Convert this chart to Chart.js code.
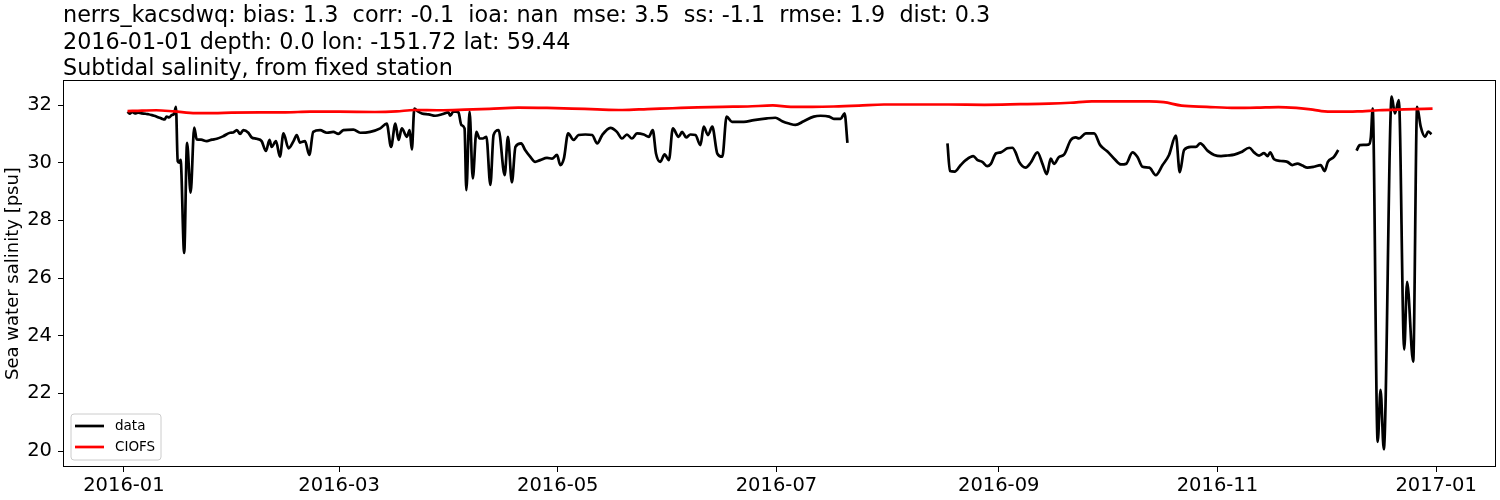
<!DOCTYPE html>
<html>
<head>
<meta charset="utf-8">
<title>Subtidal salinity</title>
<script src="https://cdn.jsdelivr.net/npm/chart.js@4.4.0/dist/chart.umd.min.js"></script>
<style>
    html, body { margin: 0; padding: 0; background: #fff; }
</style>
</head>
<body>
<canvas id="salinityChart" width="1500" height="500"></canvas>
<script>
// Title lines
const titleLines = [
    'nerrs_kacsdwq: bias: 1.3  corr: -0.1  ioa: nan  mse: 3.5  ss: -1.1  rmse: 1.9  dist: 0.3',
    '2016-01-01 depth: 0.0 lon: -151.72 lat: 59.44',
    'Subtidal salinity, from fixed station'
];

// Axis ticks
const tickLabels = ['2016-01', '2016-03', '2016-05', '2016-07', '2016-09', '2016-11', '2017-01'];
const yTicks = [20, 22, 24, 26, 28, 30, 32];

// Observed salinity (days since 2016-01-01), null = gap in record
const dataDays = [
    1.0, 1.6, 2.3, 3.1, 4.0, 4.9, 6.0, 6.8, 7.8, 8.7, 9.5, 10.0, 10.7, 11.3, 11.9, 12.6, 13.3, 14.0, 14.5, 15.0,
    15.5, 15.8, 16.8, 17.6, 18.6, 19.6, 20.3, 21.5, 23.1, 24.5, 25.9, 27.7, 29.6, 30.5, 31.5, 32.4, 33.3, 34.7, 35.6, 37.0,
    38.4, 39.6, 40.6, 41.2, 42.4, 43.5, 44.5, 45.9, 47.3, 48.2, 49.1, 50.5, 51.7, 52.8, 54.7, 56.6, 58.4, 59.8, 61.2, 64.0,
    65.9, 68.7, 71.5, 73.3, 74.5, 75.7, 76.6, 77.5, 78.9, 79.7, 80.3, 81.0, 82.0, 83.1, 85.0, 86.8, 88.7, 90.5, 91.0, 91.9,
    93.3, 94.1, 95.0, 95.5, 96.4, 97.3, 98.3, 99.2, 100.1, 101.1, 102.2, 103.1, 104.5, 106.2, 107.1, 108.2, 109.2, 110.8, 111.9, 113.3,
    114.7, 116.1, 118.0, 119.4, 120.8, 121.7, 122.7, 123.9, 125.4, 126.8, 128.7, 130.6, 132.0, 133.4, 135.7, 137.5, 138.9, 140.3, 141.7, 143.1,
    145.0, 146.4, 147.5, 148.4, 149.6, 150.8, 152.0, 153.1, 154.7, 155.7, 156.8, 158.0, 159.4, 160.8, 161.7, 162.9, 164.1, 165.5, 166.9, 168.1,
    169.6, 172.9, 175.7, 179.4, 181.7, 183.6, 185.5, 187.3, 189.6, 192.4, 194.3, 196.7, 198.0, 199.9, 201.0, 201.8, 215.0,
    229.7, 230.4, 231.7, 233.4, 234.8, 236.9, 238.1, 239.4, 240.8, 241.8, 243.2, 244.6, 246.4, 247.8, 248.7, 249.7, 251.5, 252.9, 254.8, 256.2,
    257.4, 258.5, 259.4, 260.8, 262.2, 264.1, 265.5, 266.4, 268.3, 270.6, 272.3, 274.4, 276.2, 278.1, 279.5, 281.3, 282.7, 284.1, 286.0, 287.8,
    289.7, 291.5, 293.4, 294.5, 295.7, 297.6, 299.0, 300.2, 302.3, 304.1, 306.0, 307.8, 309.7, 311.5, 313.9, 315.2, 316.6, 318.0, 319.0, 319.7,
    320.8, 322.7, 324.5, 325.9, 327.3, 328.7, 330.1, 331.9, 333.8, 334.9, 335.8, 337.5, 338.7, 341.0,
    343.8, 344.7, 347.1, 347.8, 348.3, 349.7, 350.5, 351.4, 353.6, 354.5, 355.6, 357.1, 357.9, 359.6, 360.7, 361.7, 362.9, 363.8, 364.7
];
const dataSalinity = [
    31.77, 31.70, 31.76, 31.71, 31.74, 31.71, 31.70, 31.68, 31.65, 31.62, 31.58, 31.56, 31.52, 31.50, 31.60, 31.57, 31.65, 31.70, 31.94, 30.05,
    30.00, 30.10, 26.87, 30.69, 28.96, 31.22, 30.81, 30.80, 30.75, 30.80, 30.83, 30.92, 31.04, 31.05, 31.13, 31.00, 31.13, 31.04, 30.88, 30.83,
    30.75, 30.41, 30.79, 30.55, 30.75, 30.21, 31.02, 30.50, 30.75, 30.96, 30.70, 30.75, 30.27, 31.07, 31.13, 31.04, 31.07, 31.00, 31.13, 31.15,
    31.04, 31.07, 31.19, 31.36, 30.55, 31.36, 30.79, 31.19, 30.90, 31.13, 30.46, 31.88, 31.78, 31.71, 31.68, 31.63, 31.68, 31.75, 31.63, 31.78,
    31.75, 31.31, 31.19, 29.05, 31.77, 29.46, 31.07, 30.84, 30.84, 30.90, 29.23, 30.96, 31.13, 29.57, 30.90, 29.32, 30.55, 30.67, 30.44, 30.21,
    30.03, 30.09, 30.17, 30.14, 30.27, 29.92, 30.14, 31.02, 30.79, 30.96, 30.98, 30.96, 30.67, 30.96, 31.21, 31.07, 30.84, 30.98, 30.84, 31.02,
    30.98, 30.90, 31.13, 30.32, 30.03, 30.29, 30.09, 31.19, 30.90, 31.07, 30.88, 30.98, 30.96, 30.61, 31.25, 30.96, 31.25, 30.32, 30.21, 31.60,
    31.42, 31.42, 31.48, 31.54, 31.56, 31.44, 31.36, 31.31, 31.44, 31.60, 31.63, 31.60, 31.52, 31.52, 31.71, 30.69, null,
    30.67, 29.71, 29.69, 29.92, 30.09, 30.23, 30.09, 30.03, 29.88, 29.96, 30.32, 30.36, 30.50, 30.52, 30.36, 30.03, 29.83, 30.00, 30.36, 29.96,
    29.60, 30.14, 29.96, 30.20, 30.28, 30.79, 30.88, 30.84, 31.02, 31.02, 30.61, 30.38, 30.14, 29.94, 29.96, 30.36, 30.20, 29.86, 29.83, 29.57,
    29.92, 30.27, 30.94, 29.67, 30.44, 30.55, 30.55, 30.67, 30.41, 30.27, 30.23, 30.25, 30.28, 30.36, 30.52, 30.36, 30.25, 30.33, 30.23, 30.36,
    30.12, 30.06, 30.03, 29.92, 29.97, 29.90, 29.83, 29.86, 29.92, 29.71, 30.03, 30.20, 30.44, null,
    30.42, 30.61, 30.63, 30.90, 31.88, 20.32, 22.12, 20.06, 32.29, 31.71, 32.17, 23.52, 25.87, 23.10, 31.94, 31.25, 30.90, 31.08, 30.99
];

// CIOFS model salinity (days since 2016-01-01)
const modelDays = [
    1, 5, 9, 14, 20, 25, 30, 38, 45, 52, 60, 70, 76, 81, 88, 95, 102, 110, 118, 125,
    132, 139, 146, 153, 160, 167, 174, 181, 186, 192, 198, 205, 212, 220, 230, 240, 250, 258, 264, 270,
    278, 286, 290, 295, 302, 310, 316, 322, 327, 331, 334, 338, 344, 350, 357, 365
];
const modelSalinity = [
    31.79, 31.81, 31.82, 31.78, 31.72, 31.72, 31.74, 31.75, 31.75, 31.77, 31.77, 31.76, 31.78, 31.83, 31.82, 31.84, 31.87, 31.91, 31.90, 31.88,
    31.85, 31.83, 31.86, 31.89, 31.92, 31.94, 31.95, 31.99, 31.94, 31.94, 31.95, 31.98, 32.02, 32.02, 32.02, 32.01, 32.03, 32.05, 32.08, 32.13,
    32.13, 32.13, 32.10, 31.98, 31.94, 31.90, 31.91, 31.93, 31.90, 31.85, 31.79, 31.77, 31.78, 31.82, 31.85, 31.88
];

const FONT = 'DejaVu Sans';
const MS_DAY = 86400000;

function dayOf(label) {
    const parts = label.split('-');
    return (Date.UTC(+parts[0], +parts[1] - 1, 1) - Date.UTC(2016, 0, 1)) / MS_DAY;
}

function toPoints(days, values) {
    return days.map((d, i) => ({ x: d, y: values[i] }));
}

// Title above plot, left aligned with the axes frame
const titlePlugin = {
    id: 'leftTitle',
    afterDraw(chart) {
        const c = chart.ctx;
        c.save();
        c.fillStyle = '#000';
        c.font = '22.3px "' + FONT + '"';
        c.textAlign = 'left';
        c.textBaseline = 'alphabetic';
        const baselines = [22, 48.5, 75];
        titleLines.forEach((line, i) => c.fillText(line, chart.chartArea.left, baselines[i]));
        c.restore();
    }
};

// Full box around the axes
const framePlugin = {
    id: 'frame',
    afterDatasetsDraw(chart) {
        const a = chart.chartArea;
        const c = chart.ctx;
        c.save();
        c.strokeStyle = '#000';
        c.lineWidth = 1;
        c.strokeRect(Math.round(a.left) + 0.5, Math.round(a.top) + 0.5,
            Math.round(a.right - a.left) - 1, Math.round(a.bottom - a.top) - 1);
        c.restore();
    }
};

// Legend box in lower left corner of the axes
const legendPlugin = {
    id: 'cornerLegend',
    afterDraw(chart) {
        const a = chart.chartArea;
        const c = chart.ctx;
        const x = a.left + 8, y = a.bottom - 53, w = 90, h = 46, r = 3;
        c.save();
        c.beginPath();
        c.moveTo(x + r, y);
        c.arcTo(x + w, y, x + w, y + h, r);
        c.arcTo(x + w, y + h, x, y + h, r);
        c.arcTo(x, y + h, x, y, r);
        c.arcTo(x, y, x + w, y, r);
        c.closePath();
        c.fillStyle = 'rgba(255,255,255,0.8)';
        c.fill();
        c.strokeStyle = '#cccccc';
        c.lineWidth = 1;
        c.stroke();
        c.font = '13.5px "' + FONT + '"';
        c.textBaseline = 'middle';
        c.textAlign = 'left';
        chart.data.datasets.forEach((ds, i) => {
            const ly = y + 12 + i * 21;
            c.beginPath();
            c.moveTo(x + 4, ly);
            c.lineTo(x + 33, ly);
            c.strokeStyle = ds.borderColor;
            c.lineWidth = 2.7;
            c.stroke();
            c.fillStyle = '#000';
            c.fillText(ds.label, x + 44, ly);
        });
        c.restore();
    }
};

Chart.defaults.font.family = FONT;
Chart.defaults.color = '#000';

const ctx = document.getElementById('salinityChart').getContext('2d');
new Chart(ctx, {
    type: 'line',
    data: {
        datasets: [{
            label: 'data',
            data: toPoints(dataDays, dataSalinity),
            borderColor: '#000000',
            borderWidth: 2.7,
            pointRadius: 0,
            cubicInterpolationMode: 'monotone',
            spanGaps: false,
            order: 1
        }, {
            label: 'CIOFS',
            data: toPoints(modelDays, modelSalinity),
            borderColor: '#ff0000',
            borderWidth: 2.7,
            pointRadius: 0,
            cubicInterpolationMode: 'monotone',
            order: 0
        }]
    },
    options: {
        responsive: false,
        animation: false,
        layout: { padding: { top: 80, right: 4, bottom: 0, left: 0 } },
        plugins: {
            legend: { display: false },
            title: { display: false },
            tooltip: { enabled: false }
        },
        scales: {
            x: {
                type: 'linear',
                min: -17,
                max: 382.7,
                afterBuildTicks: scale => {
                    scale.ticks = tickLabels.map(l => ({ value: dayOf(l) }));
                },
                afterFit: scale => { scale.height = 33; },
                ticks: {
                    callback: (value, index) => tickLabels[index],
                    font: { size: 19.5 },
                    color: '#000',
                    padding: 2,
                    maxRotation: 0,
                    autoSkip: false
                },
                grid: { drawOnChartArea: false, drawTicks: true, tickLength: 5, color: '#000' },
                border: { display: false }
            },
            y: {
                min: 19.445,
                max: 32.87,
                afterBuildTicks: scale => {
                    scale.ticks = yTicks.map(v => ({ value: v }));
                },
                afterFit: scale => { scale.width = 63; },
                ticks: {
                    font: { size: 19.5 },
                    color: '#000',
                    padding: 6
                },
                grid: { drawOnChartArea: false, drawTicks: true, tickLength: 5, color: '#000' },
                border: { display: false },
                title: {
                    display: true,
                    text: 'Sea water salinity [psu]',
                    font: { size: 18 },
                    color: '#000',
                    padding: { top: 3, bottom: 0 }
                }
            }
        }
    },
    plugins: [titlePlugin, framePlugin, legendPlugin]
});
</script>
</body>
</html>
